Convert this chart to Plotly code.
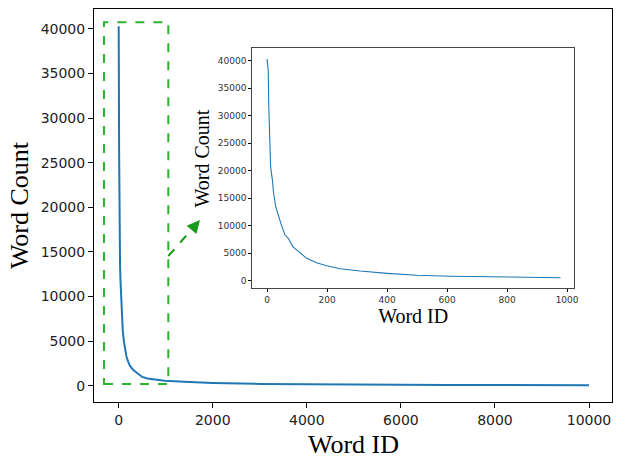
import plotly.graph_objects as go

# ---- data ----
word_id = [0, 4, 6, 9, 12, 18, 22, 29, 37, 48, 60, 71, 86, 110, 132, 165, 199, 244,
           311, 400, 500, 612, 779, 978, 1500, 2000, 3000, 4000, 5000, 6000, 7000,
           8000, 9000, 10000]
word_count = [40300, 38300, 31600, 26200, 20700, 18300, 15900, 13450, 11950, 10100,
              8300, 7700, 6200, 5000, 4070, 3270, 2730, 2180, 1760, 1340, 980, 800,
              670, 550, 400, 300, 200, 150, 120, 100, 85, 75, 65, 55]
inset_limit = 1000
main_ticks = [0, 2000, 4000, 6000, 8000, 10000]
main_yticks = [0, 5000, 10000, 15000, 20000, 25000, 30000, 35000, 40000]
inset_ticks = [0, 200, 400, 600, 800, 1000]

inset_x = [x for x in word_id if x < inset_limit]
inset_y = word_count[:len(inset_x)]

BLUE = "#1f77b4"
GREEN = "#2cb52c"
SERIF = "Liberation Serif, Times New Roman, serif"
SANS = "DejaVu Sans, sans-serif"

fig = go.Figure()
fig.add_trace(go.Scatter(x=word_id, y=word_count, mode="lines",
                         line=dict(color=BLUE, width=2), xaxis="x", yaxis="y",
                         showlegend=False, hoverinfo="skip"))
fig.add_trace(go.Scatter(x=inset_x, y=inset_y, mode="lines",
                         line=dict(color=BLUE, width=1.1), xaxis="x2", yaxis="y2",
                         showlegend=False, hoverinfo="skip"))

W, H = 622, 458
L, R, T, B = 94, 10, 9, 56
pw, ph = W - L - R, H - T - B

def px_x(p):
    return (p - L) / pw

def px_y(p):
    return (H - B - p) / ph

axis_common = dict(showline=True, linecolor="black", linewidth=1, mirror=True,
                   ticks="outside", tickcolor="black", showgrid=False, zeroline=False,
                   automargin=False, tickformat="d")

fig.update_layout(
    width=W, height=H,
    margin=dict(l=L, r=R, t=T, b=B, autoexpand=False),
    paper_bgcolor="white", plot_bgcolor="white",
    xaxis=dict(**axis_common, range=[-525, 10489], tickvals=main_ticks,
               ticklen=5, tickfont=dict(family=SANS, size=14, color="#222"),
               domain=[0, 1]),
    yaxis=dict(**axis_common, range=[-1830, 42240], tickvals=main_yticks,
               ticklen=5, tickfont=dict(family=SANS, size=14, color="#222"),
               domain=[0, 1],
               title=dict(text="Word Count", font=dict(family=SERIF, size=26, color="black"),
                          standoff=4)),
    xaxis2=dict(**axis_common, anchor="y2", range=[-49, 1023], tickvals=inset_ticks,
                ticklen=3, tickfont=dict(family=SANS, size=9, color="#333"),
                domain=[px_x(252.3), px_x(574)],
                title=dict(text="Word ID", font=dict(family=SERIF, size=20, color="black"),
                           standoff=2)),
    yaxis2=dict(**axis_common, anchor="x2", range=[-1380, 42255], tickvals=main_yticks,
                ticklen=3, tickfont=dict(family=SANS, size=9, color="#333"),
                domain=[px_y(288.3), px_y(48.3)]),
)
fig.update_xaxes(linecolor="#444", selector=dict(anchor="y2"))
fig.update_yaxes(linecolor="#444", selector=dict(anchor="x2"))

# main x-axis title
fig.add_annotation(xref="paper", yref="paper", x=px_x(353), y=px_y(445),
                   text="Word ID", showarrow=False,
                   font=dict(family=SERIF, size=26, color="black"),
                   xanchor="center", yanchor="middle")

# inset y-axis title (placed where the reference shows it)
fig.add_annotation(xref="paper", yref="paper", x=px_x(201.5), y=px_y(159),
                   text="Word Count", textangle=-90, showarrow=False,
                   font=dict(family=SERIF, size=20, color="black"),
                   xanchor="center", yanchor="middle")

# dashed zoom rectangle around the head of the distribution (main axes coords)
fig.add_shape(type="rect", xref="x", yref="y", x0=-313, x1=1055, y0=190, y1=40750,
              line=dict(color=GREEN, width=2, dash="dash"), fillcolor="rgba(0,0,0,0)")

# dashed arrow pointing to inset (paper coords)
x0p, y0p = px_x(168.3), px_y(256)
x1p, y1p = px_x(196.5), px_y(224)
fig.add_shape(type="line", xref="paper", yref="paper", x0=x0p, y0=y0p, x1=x1p, y1=y1p,
              line=dict(color="#1a9a1a", width=2, dash="dash"))
fig.add_annotation(xref="paper", yref="paper", x=px_x(200), y=px_y(220),
                   ax=-6, ay=7, axref="pixel", ayref="pixel", text="",
                   showarrow=True, arrowhead=2, arrowsize=1.3, arrowwidth=2,
                   arrowcolor="#1a9a1a", standoff=0)

fig.write_html("out.html", config={"displayModeBar": False},
               post_script="document.body.style.margin='0px';")
